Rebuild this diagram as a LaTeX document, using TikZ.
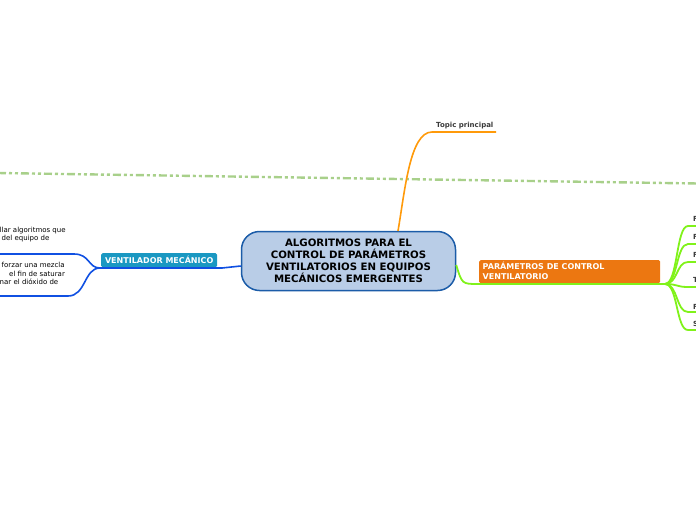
\documentclass[tikz,border=0pt]{standalone}
\usepackage{fontspec}
\setmainfont{DejaVu Sans}
\definecolor{cfill}{HTML}{B9CDE7}
\definecolor{cborder}{HTML}{1B5CA8}
\definecolor{orbox}{HTML}{EC7711}
\definecolor{blbox}{HTML}{1A98C2}
\definecolor{blline}{HTML}{1050E2}
\definecolor{grline}{HTML}{80F21A}
\definecolor{orline}{HTML}{FF9A0A}
\definecolor{dashgr}{HTML}{A8D08A}
\definecolor{txtgray}{HTML}{3A3A3A}
\tikzset{
  centralbox/.style={draw=cborder, line width=1.5pt, fill=cfill, rounded corners=18pt,
    minimum width=214pt, minimum height=59pt, align=center, inner sep=0pt,
    font=\fontsize{10.2}{12}\selectfont\bfseries},
  mainbox/.style={rounded corners=1.5pt, text=white, inner sep=0pt, anchor=north west},
  boxtxt/.style={text=white, inner sep=0pt, font=\fontsize{8}{10}\selectfont\bfseries},
  smalltxt/.style={anchor=west, inner sep=0pt, text=black, font=\fontsize{7}{8}\selectfont},
  edgetxt/.style={anchor=west, inner sep=0pt, text=txtgray, font=\fontsize{7}{8}\selectfont\bfseries},
  bluebranch/.style={draw=blline, line width=1.6pt},
  greenbranch/.style={draw=grline, line width=1.8pt},
  orangebranch/.style={draw=orline, line width=1.6pt},
}
\begin{document}
\begin{tikzpicture}[x=1pt,y=-1pt]
\useasboundingbox (0,0) rectangle (696,520);
\clip (0,0) rectangle (696,520);

% dashed relationship line
\coordinate (dl) at (-2,173);
\coordinate (dr) at (698,183.5);
\draw[dashgr, line width=2.4pt, dash pattern=on 8pt off 3pt on 3pt off 3pt on 3pt off 3pt] (dl) -- (dr);

% central node
\node[centralbox] (c) at (348.5,261) {ALGORITMOS PARA EL\\CONTROL DE PARÁMETROS\\VENTILATORIOS EN EQUIPOS\\MECÁNICOS EMERGENTES};

% topic principal
\node[edgetxt] (tp) at (436,125.5) {Topic principal};
\coordinate (tpe) at (496,132);
\coordinate (tps) at (398,231);
\draw[orangebranch] (tps) .. controls (405,190) and (410,132) .. (432,132) -- (tpe);

% blue branch (left)
\node[mainbox, fill=blbox, minimum width=116pt, minimum height=14pt] (vm) at (101,253) {};
\node[boxtxt, anchor=center] (vmt) at (vm.center) {VENTILADOR MECÁNICO};
\coordinate (bj) at (100,268);
\draw[bluebranch] ([yshift=-5pt]c.west) .. controls (232,267.5) .. (222,268) -- (bj);
\coordinate (bl1) at (-2,254);
\coordinate (bl2) at (-2,296);
\draw[bluebranch] (bj) .. controls (88,268) and (90,254) .. (74,254) -- (bl1);
\draw[bluebranch] (bj) .. controls (84,268) and (86,296) .. (68,296) -- (bl2);

\node[smalltxt] (l1a) at (-0.5,230.5) {llar algoritmos que};
\node[smalltxt] (l1b) at (1.5,239) {del equipo de};
\node[smalltxt] (l2a) at (1.5,265) {forzar una mezcla};
\node[smalltxt] (l2b) at (9,273.5) {el fin de saturar};
\node[smalltxt] (l2c) at (-0.5,282) {nar el dióxido de};

% orange main branch (right)
\node[mainbox, fill=orbox, minimum width=181pt, minimum height=23pt] (pc) at (479,260) {};
\node[boxtxt, anchor=north west, align=left] (pct) at (482.5,262) {PARÁMETROS DE CONTROL\\VENTILATORIO};
\coordinate (gj) at (665,284);
\draw[greenbranch] ([yshift=-4pt]c.east) .. controls (462,284) .. (478,284) -- (gj);
\foreach \yy/\nm in {226/r1,244/r2,262/r3,287/r4,312/r5,330/r6}{
  \coordinate (\nm) at (698,\yy);
  \draw[greenbranch] (gj) .. controls (678,284) and (676,\yy) .. (688,\yy) -- (\nm);
}
\node[edgetxt] (f1) at (693,219) {F};
\node[edgetxt] (f2) at (693,237) {F};
\node[edgetxt] (f3) at (693,255) {F};
\node[edgetxt] (f4) at (693,280) {T};
\node[edgetxt] (f5) at (693,306.5) {F};
\node[edgetxt] (f6) at (693,324) {S};
\end{tikzpicture}
\end{document}
